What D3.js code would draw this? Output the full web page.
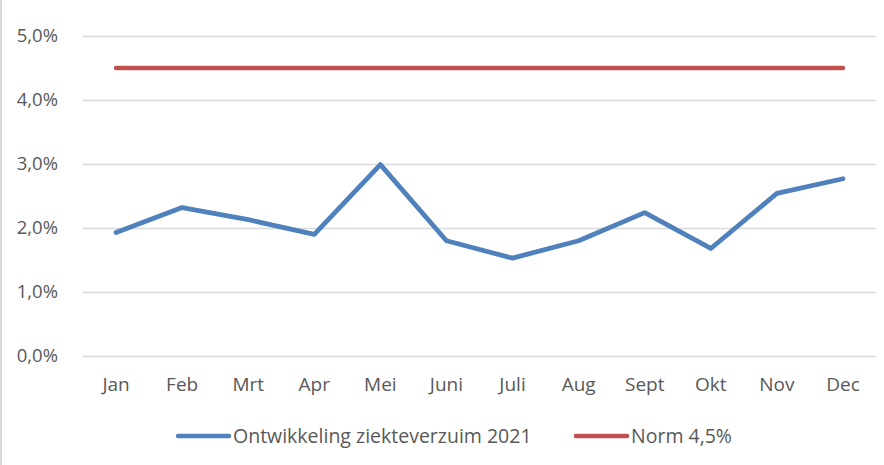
<!DOCTYPE html>
<html>
<head>
<meta charset="utf-8">
<script src="https://cdn.jsdelivr.net/npm/d3@7"></script>
<style>
  body { margin: 0; background: #fff; }
  svg { display: block; }
  text { font-family: "Open Sans", sans-serif; fill: #595959; }
</style>
</head>
<body>
<div id="chart"></div>
<script>
// data
var months = ["Jan", "Feb", "Mrt", "Apr", "Mei", "Juni", "Juli", "Aug", "Sept", "Okt", "Nov", "Dec"];
var verzuim = [1.93, 2.32, 2.13, 1.90, 2.99, 1.80, 1.53, 1.80, 2.24, 1.68, 2.54, 2.77];
var norm = [4.5, 4.5, 4.5, 4.5, 4.5, 4.5, 4.5, 4.5, 4.5, 4.5, 4.5, 4.5];
var yTicks = [0, 1, 2, 3, 4, 5];
var seriesNames = ["Ontwikkeling ziekteverzuim 2021", "Norm 4,5%"];
var colors = ["#4f81bd", "#c0504d"];

var W = 884, H = 465;
var margin = {top: 36, right: 8, bottom: 109, left: 83};
var width = W - margin.left - margin.right;
var height = H - margin.top - margin.bottom;

var svg = d3.select("#chart")
            .append("svg")
            .attr("width", W)
            .attr("height", H);

// left border of the chart area
svg.append("rect")
   .attr("x", 0).attr("y", 0)
   .attr("width", 2).attr("height", H)
   .attr("fill", "#d9d9d9");

var g = svg.append("g")
           .attr("transform", "translate(" + margin.left + "," + margin.top + ")");

var xScale = d3.scaleBand()
               .domain(months)
               .range([0, width]);

var yScale = d3.scaleLinear()
               .domain([0, 5])
               .range([height, 0]);

// gridlines
g.selectAll(".grid")
 .data(yTicks)
 .enter()
 .append("line")
 .attr("class", "grid")
 .attr("x1", 0)
 .attr("x2", width)
 .attr("y1", function(d) { return Math.round(yScale(d)) + 0.5; })
 .attr("y2", function(d) { return Math.round(yScale(d)) + 0.5; })
 .attr("stroke", "#d9d9d9")
 .attr("stroke-width", 1.5);

// y-axis
var yAxis = g.append("g")
             .attr("class", "y_axis")
             .attr("transform", "translate(-22,0)")
             .call(d3.axisLeft(yScale)
                     .tickValues(yTicks)
                     .tickSize(0)
                     .tickFormat(function(d) { return d.toFixed(1).replace(".", ",") + "%"; }));
yAxis.select(".domain").remove();
yAxis.selectAll("text")
     .attr("font-size", "18.5px")
     .attr("font-family", null)
     .attr("fill", "#595959");

// x-axis
var xAxis = g.append("g")
             .attr("class", "x_axis")
             .attr("transform", "translate(0," + height + ")")
             .call(d3.axisBottom(xScale).tickSize(0).tickPadding(22));
xAxis.select(".domain").remove();
xAxis.selectAll("text")
     .attr("font-size", "19px")
     .attr("font-family", null)
     .attr("fill", "#595959");

var line = d3.line()
             .x(function(d, i) { return xScale(months[i]) + xScale.bandwidth() / 2; })
             .y(function(d) { return yScale(d); });

g.append("path")
 .datum(norm)
 .attr("d", line)
 .attr("fill", "none")
 .attr("stroke", colors[1])
 .attr("stroke-width", 4.5)
 .attr("stroke-linecap", "round");

g.append("path")
 .datum(verzuim)
 .attr("d", line)
 .attr("fill", "none")
 .attr("stroke", colors[0])
 .attr("stroke-width", 4.8)
 .attr("stroke-linecap", "round")
 .attr("stroke-linejoin", "round");

// legend
var legendX = [178, 576];
var legend = svg.selectAll(".legend")
                .data(seriesNames)
                .enter()
                .append("g")
                .attr("class", "legend")
                .attr("transform", function(d, i) { return "translate(" + legendX[i] + ",436)"; });

legend.append("line")
      .attr("x1", 0).attr("x2", 51)
      .attr("y1", 0).attr("y2", 0)
      .attr("stroke", function(d, i) { return colors[i]; })
      .attr("stroke-width", 4.5)
      .attr("stroke-linecap", "round");

legend.append("text")
      .attr("x", 55)
      .attr("y", 0)
      .attr("dy", "0.35em")
      .attr("font-size", "19.5px")
      .text(function(d) { return d; });
</script>
</body>
</html>
